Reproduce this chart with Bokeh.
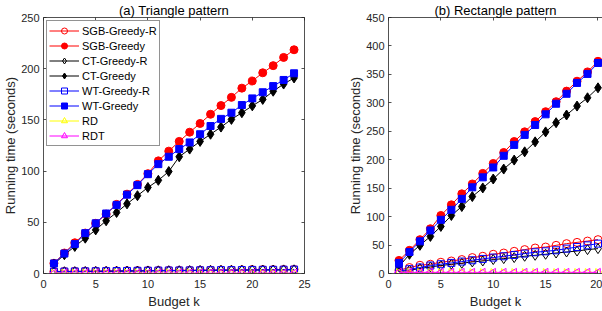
import math
from bokeh.plotting import figure
from bokeh.layouts import row
from bokeh.models import (LinearAxis, Range1d, Legend, LegendItem, FixedTicker,
                          CustomLabelingPolicy)
from bokeh.embed import file_html
from bokeh.resources import INLINE

# ---------------- data ----------------
budget_a = [1, 2, 3, 4, 5, 6, 7, 8, 9, 10, 11, 12, 13, 14, 15, 16, 17, 18, 19, 20, 21, 22, 23, 24]
sgb_r_a = [2.0, 2.1, 2.2, 2.3, 2.4, 2.5, 2.6, 2.7, 2.8, 2.9, 3.0, 3.1, 3.1, 3.2, 3.3, 3.4, 3.5, 3.5, 3.6, 3.7, 3.8, 3.8, 3.9, 4.0]
sgb_a = [10, 20, 30, 39.5, 49, 58, 67.5, 77.5, 87, 97.5, 110, 119.5, 129, 138, 146.5, 155.5, 164, 172, 181, 188, 196, 203, 211, 218.5]
ct_r_a = [1.6, 1.7, 1.8, 1.9, 2.0, 2.1, 2.2, 2.3, 2.4, 2.5, 2.6, 2.7, 2.7, 2.8, 2.9, 3.0, 3.1, 3.1, 3.2, 3.3, 3.4, 3.4, 3.5, 3.6]
ct_a = [9.2, 18.3, 26.4, 34.5, 42.6, 51.5, 59.6, 68, 76, 84, 91, 99.6, 114, 121.5, 129, 136, 143, 150.5, 157, 163.7, 170, 178, 185, 191]
wt_r_a = [1.8, 1.9, 2.0, 2.1, 2.2, 2.3, 2.4, 2.5, 2.6, 2.7, 2.8, 2.9, 2.9, 3.0, 3.1, 3.2, 3.3, 3.3, 3.4, 3.5, 3.6, 3.6, 3.7, 3.8]
wt_a = [9.8, 19.5, 28.7, 39.4, 49, 58.6, 67, 77, 86.3, 97, 106.8, 114, 121.5, 128, 136, 144, 151, 157, 164.5, 171, 177, 183, 189, 195.5]
rd_a = [0.1, 0.1, 0.1, 0.1, 0.1, 0.1, 0.1, 0.1, 0.1, 0.1, 0.1, 0.1, 0.1, 0.1, 0.1, 0.1, 0.1, 0.1, 0.1, 0.1, 0.1, 0.1, 0.1, 0.1]
rdt_a = [0.3, 0.3, 0.3, 0.3, 0.3, 0.3, 0.3, 0.3, 0.3, 0.3, 0.3, 0.3, 0.3, 0.3, 0.3, 0.3, 0.3, 0.3, 0.3, 0.3, 0.3, 0.3, 0.3, 0.3]

budget_b = [1, 2, 3, 4, 5, 6, 7, 8, 9, 10, 11, 12, 13, 14, 15, 16, 17, 18, 19, 20]
sgb_r_b = [5.8, 10.5, 14.5, 16.3, 19.8, 22, 24.5, 28, 30.3, 33.8, 36, 39, 42, 44.8, 46.5, 49.5, 52.5, 54.7, 57, 59.5]
sgb_b = [23, 40.7, 59.5, 78.7, 102, 120.7, 140, 157.4, 176, 193.4, 212.7, 232, 249, 267, 284.4, 302, 320.6, 338, 354.4, 373]
ct_r_b = [3, 5.8, 8.7, 11.6, 14, 16.3, 18, 20.3, 22, 24.5, 26.2, 28, 30.3, 32, 33.8, 36, 37.8, 39.5, 42, 43.7]
ct_b = [12, 33.7, 49.5, 65.2, 82.7, 102, 117.7, 135.2, 150.4, 166.1, 183.6, 199.4, 213.9, 231.4, 248.9, 265.1, 278.6, 294.3, 308.9, 326.4]
wt_r_b = [4, 7.5, 10.5, 14, 16.3, 18.6, 21, 23.3, 25.6, 28, 30.3, 32.6, 35, 37.3, 39, 40.8, 43.7, 46.5, 49.5, 52.5]
wt_b = [18.6, 37.8, 56.5, 75.7, 94.4, 112, 131.2, 151.5, 169, 186.4, 206.9, 226, 243.6, 261, 279.8, 298.4, 315.9, 335, 350.8, 370]
rd_b = [1.5, 1.5, 1.5, 1.5, 1.5, 1.5, 1.5, 1.5, 1.5, 1.5, 1.5, 1.5, 1.5, 1.5, 1.5, 1.5, 1.5, 1.5, 1.5, 1.5]
rdt_b = [2.0, 2.0, 2.0, 2.0, 2.0, 2.0, 2.0, 2.0, 2.0, 2.0, 2.0, 2.0, 2.0, 2.0, 2.0, 2.0, 2.0, 2.0, 2.0, 2.0]

series_names = ["SGB-Greedy-R", "SGB-Greedy", "CT-Greedy-R", "CT-Greedy",
                "WT-Greedy-R", "WT-Greedy", "RD", "RDT"]
x_ticks_a = [0, 5, 10, 15, 20, 25]
y_ticks_a = [0, 50, 100, 150, 200, 250]
x_ticks_b = [0, 5, 10, 15, 20, 25]
y_ticks_b = [0, 50, 100, 150, 200, 250, 300, 350, 400, 450]

# ---------------- styles ----------------
FONT = "Liberation Sans"
AX = "#262626"
styles = [
    dict(color="#ff0000", marker="circle", size=8, filled=False, angle=0),
    dict(color="#ff0000", marker="circle", size=8, filled=True, angle=0),
    dict(color="#000000", marker="diamond", size=10, filled=False, angle=0),
    dict(color="#000000", marker="diamond", size=10, filled=True, angle=0),
    dict(color="#0000ff", marker="square", size=7, filled=False, angle=0),
    dict(color="#0000ff", marker="square", size=7, filled=True, angle=0),
    dict(color="#ffff00", marker="triangle", size=8, filled=False, angle=-math.pi / 2),
    dict(color="#ff00ff", marker="triangle", size=8, filled=False, angle=math.pi / 2),
]


def style_axis(ax, ticks, labels=True, lab_standoff=5, ax_standoff=3):
    ax.ticker = FixedTicker(ticks=ticks)
    ax.axis_line_color = AX
    ax.axis_line_width = 0.8
    ax.major_tick_line_color = AX
    ax.major_tick_line_width = 0.8
    ax.major_tick_in = 3
    ax.major_tick_out = 0
    ax.minor_tick_line_color = None
    ax.major_label_text_font = FONT
    ax.major_label_text_font_size = "11px"
    ax.major_label_text_color = AX
    ax.major_label_standoff = lab_standoff
    ax.axis_label_text_font = FONT
    ax.axis_label_text_font_size = "13px"
    ax.axis_label_text_font_style = "normal"
    ax.axis_label_text_color = AX
    ax.axis_label_standoff = ax_standoff
    if not labels:
        ax.major_label_policy = CustomLabelingPolicy(code="return new Set()")
        ax.major_label_text_font_size = "0px"
        ax.major_label_standoff = 0


def make_fig(title, width, xr, yr, xt, yt, mbl, mbr, right_box):
    p = figure(width=width, height=311, x_range=Range1d(*xr), y_range=Range1d(*yr),
               output_backend="svg", toolbar_location=None,
               min_border_left=mbl, min_border_right=mbr,
               min_border_top=16, min_border_bottom=38, title=title)
    p.title.text_font = FONT
    p.title.text_font_size = "13px"
    p.title.text_font_style = "normal"
    p.title.text_color = "#000000"
    p.title.align = "center"
    p.title.standoff = 0
    p.xgrid.visible = False
    p.ygrid.visible = False
    p.outline_line_color = None
    p.background_fill_color = "white"
    p.border_fill_color = "white"
    style_axis(p.xaxis[0], xt, lab_standoff=6, ax_standoff=3)
    style_axis(p.yaxis[0], yt, lab_standoff=4, ax_standoff=0)
    p.xaxis[0].axis_label = "Budget k"
    p.yaxis[0].axis_label = "Running time (seconds)"
    top = LinearAxis()
    style_axis(top, xt, labels=False)
    p.add_layout(top, "above")
    if right_box:
        rgt = LinearAxis()
        style_axis(rgt, yt, labels=False)
        p.add_layout(rgt, "right")
    return p


def draw(p, x, ys):
    items = []
    for name, y, st in zip(series_names, ys, styles):
        ln = p.line(x, y, line_color=st["color"], line_width=1)
        sc = p.scatter(x, y, marker=st["marker"], size=st["size"], angle=st["angle"],
                       line_color=st["color"], line_width=1,
                       fill_color=st["color"] if st["filled"] else None)
        items.append(LegendItem(label=name, renderers=[ln, sc]))
    return items


p1 = make_fig("(a) Triangle pattern", 340, (0, 25), (0, 250), x_ticks_a, y_ticks_a, 42, 36, True)
items = draw(p1, budget_a, [sgb_r_a, sgb_a, ct_r_a, ct_a, wt_r_a, wt_a, rd_a, rdt_a])
legend = Legend(items=items, location="top_left")
legend.label_text_font = FONT
legend.label_text_font_size = "11px"
legend.label_text_color = "#000000"
legend.glyph_width = 30
legend.glyph_height = 15
legend.label_height = 15
legend.label_standoff = 3
legend.spacing = 0
legend.padding = 2
legend.margin = 3
legend.border_line_color = AX
legend.border_line_width = 0.8
legend.background_fill_color = "white"
legend.background_fill_alpha = 1
p1.add_layout(legend)

p2 = make_fig("(b) Rectangle pattern", 262, (0, 20.43), (0, 450), x_ticks_b, y_ticks_b, 48, 0, False)
draw(p2, budget_b, [sgb_r_b, sgb_b, ct_r_b, ct_b, wt_r_b, wt_b, rd_b, rdt_b])

layout = row(p1, p2)

open("out.html", "w").write(file_html(layout, INLINE))
